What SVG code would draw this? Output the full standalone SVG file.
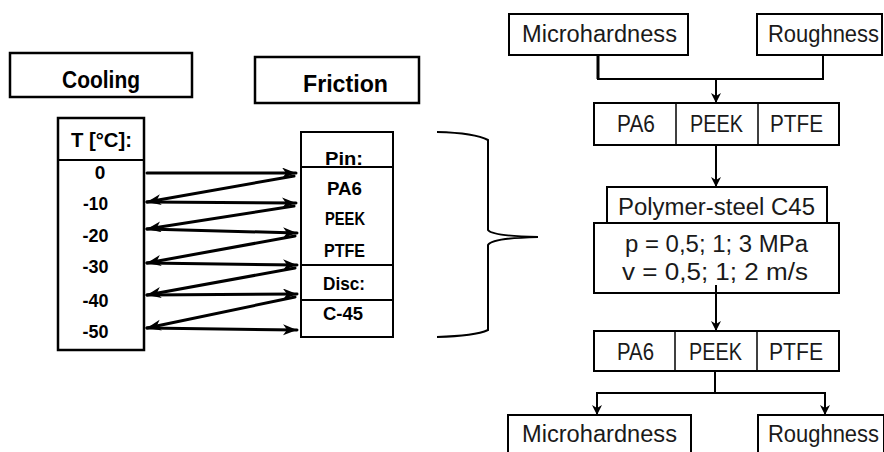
<svg xmlns="http://www.w3.org/2000/svg" width="884" height="452" viewBox="0 0 884 452">
<style>
.box{fill:#fff;stroke:#000;stroke-width:2}
.thick{stroke-width:2.5}
.b{font-family:"Liberation Sans",Arial,sans-serif;font-weight:bold;fill:#000;text-anchor:middle}
.r{font-family:"Liberation Sans",Arial,sans-serif;font-size:23px;fill:#1a1a1a;text-anchor:middle}
.ln{fill:none;stroke:#000;stroke-width:3;stroke-linecap:round}
.rl{fill:none;stroke:#000;stroke-width:2}
</style>
<defs>
<marker id="ah" markerUnits="userSpaceOnUse" markerWidth="15" markerHeight="12" refX="14" refY="5.5" orient="auto">
<path d="M0,0 L14,5.5 L0,11 L4,5.5 z" fill="#000"/>
</marker>
<marker id="sh" markerUnits="userSpaceOnUse" markerWidth="10" markerHeight="11" refX="10" refY="5" orient="auto">
<path d="M0,0 L10,5 L0,10 L3,5 z" fill="#000"/>
</marker>
</defs>
<rect width="884" height="452" fill="#fff"/>

<g id="cooling">
<rect class="box thick" x="10" y="53" width="182" height="44"/>
<text class="b" x="101" y="88" font-size="23" textLength="78" lengthAdjust="spacingAndGlyphs">Cooling</text>
</g>
<g id="friction">
<rect class="box thick" x="255" y="57" width="164" height="46"/>
<text class="b" x="345.5" y="92" font-size="23" font-weight="600" textLength="85" lengthAdjust="spacingAndGlyphs">Friction</text>
</g>

<g id="temperature">
<rect class="box thick" x="58" y="118" width="86" height="232"/>
<line x1="58" y1="160" x2="144" y2="160" stroke="#000" stroke-width="2"/>
<text class="b" x="101.5" y="147" font-size="21" textLength="61" lengthAdjust="spacingAndGlyphs">T [°C]:</text>
<text class="b" x="100" y="179" font-size="19">0</text>
<text class="b" x="95.5" y="210" font-size="19" textLength="25" lengthAdjust="spacingAndGlyphs">-10</text>
<text class="b" x="95.5" y="242" font-size="19" textLength="26" lengthAdjust="spacingAndGlyphs">-20</text>
<text class="b" x="95.5" y="273" font-size="19" textLength="26" lengthAdjust="spacingAndGlyphs">-30</text>
<text class="b" x="95.5" y="307" font-size="19" textLength="26" lengthAdjust="spacingAndGlyphs">-40</text>
<text class="b" x="95.5" y="338" font-size="19" textLength="26" lengthAdjust="spacingAndGlyphs">-50</text>
</g>

<g id="materials">
<rect class="box" x="301" y="132" width="92" height="205"/>
<line x1="301" y1="167" x2="393" y2="167" stroke="#000" stroke-width="2"/>
<line x1="301" y1="265" x2="393" y2="265" stroke="#000" stroke-width="2"/>
<line x1="301" y1="300" x2="393" y2="300" stroke="#000" stroke-width="2"/>
<text class="b" x="344" y="165" font-size="19" textLength="38" lengthAdjust="spacingAndGlyphs">Pin:</text>
<text class="b" x="344.5" y="195" font-size="19" textLength="35" lengthAdjust="spacingAndGlyphs">PA6</text>
<text class="b" x="345" y="225" font-size="19" textLength="40" lengthAdjust="spacingAndGlyphs">PEEK</text>
<text class="b" x="344.5" y="257" font-size="19" textLength="41" lengthAdjust="spacingAndGlyphs">PTFE</text>
<text class="b" x="344" y="290" font-size="19" textLength="42" lengthAdjust="spacingAndGlyphs">Disc:</text>
<text class="b" x="343" y="320" font-size="19" textLength="40" lengthAdjust="spacingAndGlyphs">C-45</text>
</g>

<g id="brace">
<path class="rl" d="M437,132 Q475,133 488,140 L488,230 Q492,236 538,237 Q492,238 488,245 L488,330 Q475,336 437,337"/>
</g>

<g id="micro-top">
<rect class="box" x="509" y="14" width="179" height="41"/>
<text class="r" x="599.5" y="42" textLength="155" lengthAdjust="spacingAndGlyphs">Microhardness</text>
</g>
<g id="rough-top">
<rect class="box" x="757" y="14" width="125" height="41"/>
<text class="r" x="823.5" y="42" textLength="111" lengthAdjust="spacingAndGlyphs">Roughness</text>
</g>

<g id="poly-top">
<rect class="box" x="594" y="103" width="245" height="42"/>
<line x1="676" y1="103" x2="676" y2="145" stroke="#000" stroke-width="1.5"/>
<line x1="758" y1="103" x2="758" y2="145" stroke="#000" stroke-width="1.5"/>
<text class="r" x="636" y="132" textLength="38" lengthAdjust="spacingAndGlyphs">PA6</text>
<text class="r" x="716.5" y="132" textLength="53" lengthAdjust="spacingAndGlyphs">PEEK</text>
<text class="r" x="796.5" y="132" textLength="53" lengthAdjust="spacingAndGlyphs">PTFE</text>
</g>

<g id="pair">
<rect class="box" x="607" y="187" width="220" height="36"/>
<text class="r" x="716.5" y="215" textLength="197" lengthAdjust="spacingAndGlyphs">Polymer-steel C45</text>
</g>
<g id="params">
<rect class="box" x="594" y="223" width="245" height="70"/>
<text class="r" x="716.5" y="252" textLength="183" lengthAdjust="spacingAndGlyphs">p = 0,5; 1; 3 MPa</text>
<text class="r" x="715" y="280" textLength="186" lengthAdjust="spacingAndGlyphs">v = 0,5; 1; 2 m/s</text>
</g>

<g id="poly-bottom">
<rect class="box" x="594" y="331" width="245" height="40"/>
<line x1="675" y1="331" x2="675" y2="371" stroke="#000" stroke-width="1.5"/>
<line x1="757" y1="331" x2="757" y2="371" stroke="#000" stroke-width="1.5"/>
<text class="r" x="635.5" y="360" textLength="37" lengthAdjust="spacingAndGlyphs">PA6</text>
<text class="r" x="715.5" y="360" textLength="53" lengthAdjust="spacingAndGlyphs">PEEK</text>
<text class="r" x="796" y="360" textLength="54" lengthAdjust="spacingAndGlyphs">PTFE</text>
</g>

<g id="micro-bottom">
<rect class="box" x="508" y="415" width="183" height="50"/>
<text class="r" x="599.5" y="442" textLength="155" lengthAdjust="spacingAndGlyphs">Microhardness</text>
</g>
<g id="rough-bottom">
<rect class="box" x="758" y="415" width="126" height="50"/>
<text class="r" x="823.5" y="442" textLength="111" lengthAdjust="spacingAndGlyphs">Roughness</text>
</g>

<g id="connectors">
<line class="ln" x1="147" y1="173" x2="296" y2="173" marker-end="url(#ah)"/>
<line class="ln" x1="294" y1="176" x2="147" y2="202" marker-end="url(#ah)"/>
<line class="ln" x1="147" y1="202" x2="296" y2="203" marker-end="url(#ah)"/>
<line class="ln" x1="294" y1="206" x2="147" y2="229" marker-end="url(#ah)"/>
<line class="ln" x1="147" y1="229" x2="297" y2="233" marker-end="url(#ah)"/>
<line class="ln" x1="295" y1="236" x2="147" y2="263" marker-end="url(#ah)"/>
<line class="ln" x1="147" y1="263" x2="297" y2="265" marker-end="url(#ah)"/>
<line class="ln" x1="295" y1="268" x2="147" y2="295" marker-end="url(#ah)"/>
<line class="ln" x1="147" y1="295" x2="297" y2="294" marker-end="url(#ah)"/>
<line class="ln" x1="295" y1="297" x2="147" y2="328" marker-end="url(#ah)"/>
<line class="ln" x1="147" y1="328" x2="297" y2="330" marker-end="url(#ah)"/>

<path class="rl" d="M598,55 L598,79 L823,79 L823,55"/>
<line x1="598" y1="55" x2="598" y2="79" stroke="#000" stroke-width="3"/>
<line class="rl" x1="716" y1="79" x2="716" y2="103" marker-end="url(#sh)"/>
<line class="rl" x1="716" y1="145" x2="716" y2="187" marker-end="url(#sh)"/>
<line class="rl" x1="716" y1="285" x2="716" y2="331" marker-end="url(#sh)"/>
<path class="rl" d="M715,371 L715,393"/>
<path class="rl" d="M597,415 L597,393 L825,393 L825,415"/>
<line class="rl" x1="597" y1="400" x2="597" y2="415" marker-end="url(#sh)"/>
<line class="rl" x1="825" y1="400" x2="825" y2="415" marker-end="url(#sh)"/>
</g>
</svg>
